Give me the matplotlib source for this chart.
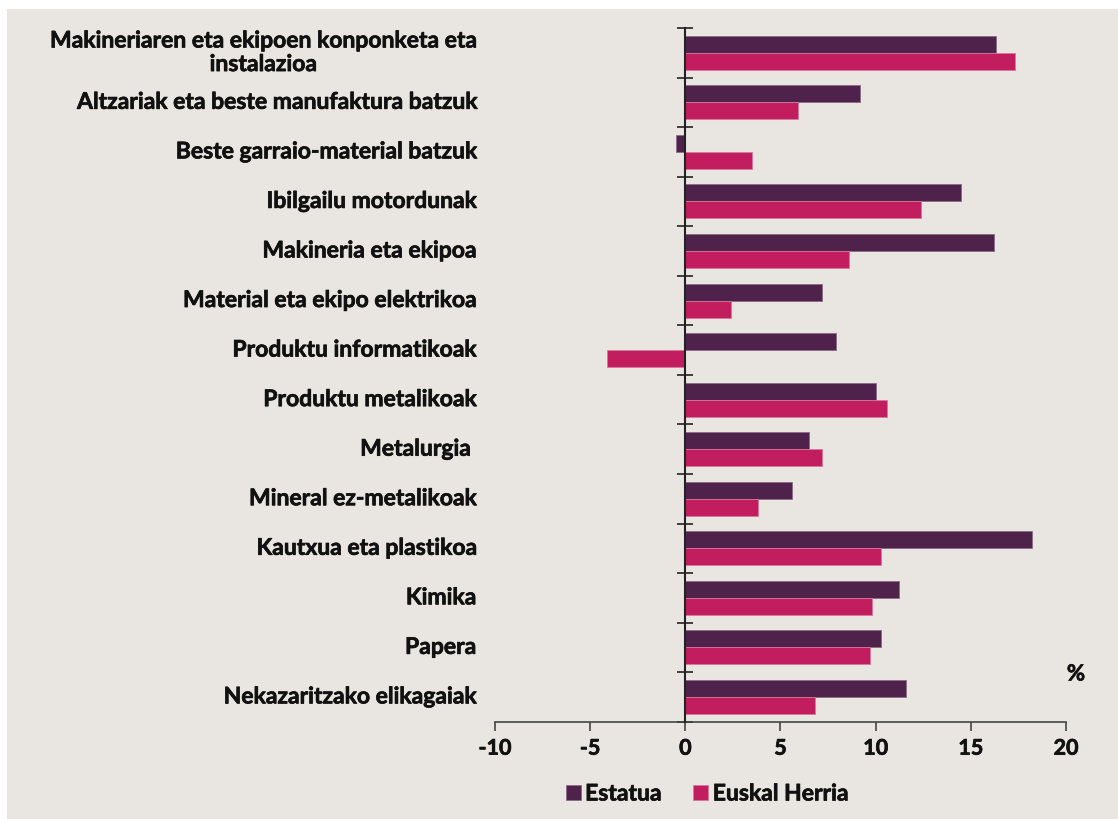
import matplotlib.pyplot as plt
import matplotlib.patheffects as pe
import numpy as np
from matplotlib.patches import Rectangle

plt.rcParams["font.family"] = ["Lato", "DejaVu Sans"]
plt.rcParams["font.weight"] = "bold"

categories = [
    "Makineriaren eta ekipoen konponketa eta\ninstalazioa",
    "Altzariak eta beste manufaktura batzuk",
    "Beste garraio-material batzuk",
    "Ibilgailu motordunak",
    "Makineria eta ekipoa",
    "Material eta ekipo elektrikoa",
    "Produktu informatikoak",
    "Produktu metalikoak",
    "Metalurgia ",
    "Mineral ez-metalikoak",
    "Kautxua eta plastikoa",
    "Kimika",
    "Papera",
    "Nekazaritzako elikagaiak",
]
estatua = [16.3, 9.2, -0.5, 14.5, 16.2, 7.2, 7.9, 10.0, 6.5, 5.6, 18.2, 11.2, 10.3, 11.6]
euskal_herria = [17.3, 5.9, 3.5, 12.4, 8.6, 2.4, -4.1, 10.6, 7.2, 3.8, 10.3, 9.8, 9.7, 6.8]
x_ticks = [-10, -5, 0, 5, 10, 15, 20]
series_names = ["Estatua", "Euskal Herria"]

bg = "#e9e6e1"
c_estatua = "#4e224a"
c_eh = "#c21d5e"
text_color = "#111111"
heavy = [pe.withStroke(linewidth=0.5, foreground=text_color)]

fig = plt.figure(figsize=(11.18, 8.2), dpi=100, facecolor="white")
fig.patches.append(Rectangle((7 / 1118, 0), 1, 1 - 10 / 820, transform=fig.transFigure,
                             facecolor=bg, edgecolor="none", zorder=-10))

ax = fig.add_axes([495 / 1118, 1 - 722.7 / 820, 571 / 1118, (722.7 - 29) / 820])
ax.set_facecolor("none")

y = np.arange(len(categories))
h = 0.343
ax.barh(y - h / 2, estatua, height=h, color=c_estatua, edgecolor="#8a6a86", linewidth=0.6,
        label=series_names[0], zorder=2)
ax.barh(y + h / 2, euskal_herria, height=h, color=c_eh, edgecolor="#d9789c", linewidth=0.6,
        label=series_names[1], zorder=2)

ax.set_xlim(-10, 20)
ax.set_ylim(len(categories) - 0.5, -0.5)

# spines: zero line carries the category separators
ax.spines["top"].set_visible(False)
ax.spines["right"].set_visible(False)
ax.spines["left"].set_position(("data", 0))
ax.spines["left"].set_color("#222222")
ax.spines["left"].set_linewidth(1.5)
ax.spines["left"].set_zorder(3)
ax.spines["bottom"].set_color("#444444")
ax.spines["bottom"].set_linewidth(1.2)

ax.set_yticks(np.arange(-0.5, len(categories), 1))
ax.tick_params(axis="y", direction="inout", length=11.5, width=1.2, color="#222222",
               labelleft=False)
ax.set_xticks(x_ticks)
ax.set_xticklabels([str(t) for t in x_ticks])
ax.tick_params(axis="x", direction="out", length=6.5, width=1.2, color="#444444",
               labelsize=15.5, labelcolor=text_color, pad=5)
for lab in ax.get_xticklabels():
    lab.set_path_effects(heavy)

label_trans = ax.get_yaxis_transform()
for yi, name in zip(y, categories):
    ax.text(-0.033, yi, name, transform=label_trans, ha="right", va="center",
            multialignment="center", fontsize=16.5, color=text_color, fontweight="bold",
            linespacing=1.15, path_effects=heavy)

ax.text(1076 / 1118, 1 - 675 / 820, "%", transform=fig.transFigure, ha="center",
        va="center", fontsize=16, color=text_color, fontweight="bold", path_effects=heavy)

leg = fig.legend(loc="center", bbox_to_anchor=(707 / 1118, 1 - 795 / 820), ncol=2,
                 frameon=False, handlelength=0.65, handleheight=0.65, handletextpad=0.2,
                 columnspacing=1.4, fontsize=16.5, labelcolor=text_color)
for t in leg.get_texts():
    t.set_path_effects(heavy)

fig.savefig("out.png", dpi=100, facecolor="white")
